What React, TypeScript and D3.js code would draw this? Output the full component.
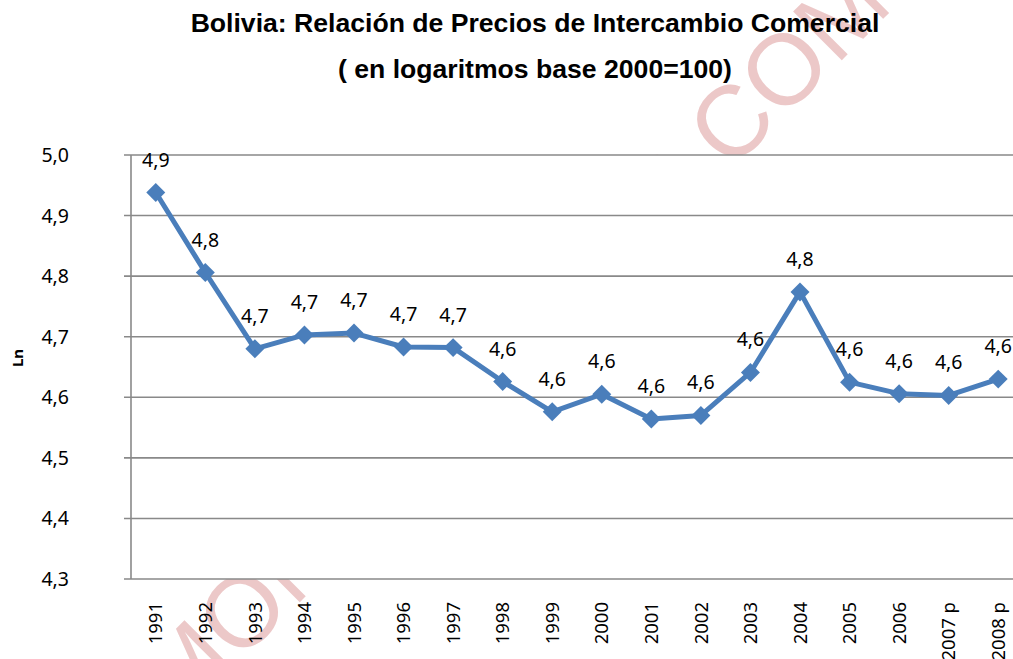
import React, { useEffect, useRef } from 'react';
import * as d3 from 'd3';

const years = ['1991', '1992', '1993', '1994', '1995', '1996', '1997', '1998', '1999', '2000',
  '2001', '2002', '2003', '2004', '2005', '2006', '2007 p', '2008 p'];
const lnValues = [4.938, 4.806, 4.680, 4.703, 4.706, 4.683, 4.682, 4.626, 4.576, 4.605,
  4.564, 4.570, 4.641, 4.774, 4.625, 4.606, 4.603, 4.630];
const yTicks = [4.3, 4.4, 4.5, 4.6, 4.7, 4.8, 4.9, 5.0];
const titleLines = ['Bolivia: Relación de Precios de Intercambio Comercial', '( en logaritmos base 2000=100)'];

const W = 1013;
const H = 659;

const App = () => {
  const ref = useRef<SVGSVGElement | null>(null);

  useEffect(() => {
    if (!ref.current) return;
    const svg = d3.select(ref.current);
    svg.selectAll('*').remove();

    const left = 131, right = 1023, top = 155, bottom = 579;
    const lbl = 'Noto Sans, Open Sans, sans-serif';
    const grey = '#898989';
    const blue = '#4a7ebb';
    const comma = (v: number) => d3.format('.1f')(v).replace('.', ',');

    // watermark behind the chart
    svg.append('text')
      .attr('transform', 'translate(180,722) rotate(-45)')
      .attr('fill', '#ecc8c8')
      .style('font-family', 'Liberation Sans, Arial, sans-serif')
      .style('font-size', '100px')
      .text('MONOGRAFIAS.COM');

    const x = d3.scaleBand().domain(years).range([left, right]);
    const y = d3.scaleLinear().domain([4.3, 5.0]).range([bottom, top]);

    // plot area
    svg.append('rect')
      .attr('x', left).attr('y', top)
      .attr('width', right - left).attr('height', bottom - top)
      .attr('fill', 'white');

    // gridlines
    svg.append('g')
      .selectAll('line')
      .data(yTicks)
      .join('line')
      .attr('x1', left - 7).attr('x2', right)
      .attr('y1', (d) => y(d)).attr('y2', (d) => y(d))
      .attr('stroke', grey).attr('stroke-width', 1.6);

    svg.append('line')
      .attr('x1', left).attr('x2', left)
      .attr('y1', top).attr('y2', bottom)
      .attr('stroke', grey).attr('stroke-width', 1.6);

    // y tick labels
    svg.append('g')
      .selectAll('text')
      .data(yTicks)
      .join('text')
      .attr('x', 69)
      .attr('y', (d) => y(d))
      .attr('dy', '0.36em')
      .attr('text-anchor', 'end')
      .style('font-family', lbl)
      .style('font-size', '19.5px')
      .text((d) => comma(d));

    svg.append('text')
      .attr('transform', 'translate(23,358) rotate(-90)')
      .attr('text-anchor', 'middle')
      .style('font-family', lbl)
      .style('font-weight', 'bold')
      .style('font-size', '15px')
      .text('Ln');

    // x labels
    svg.append('g')
      .selectAll('text')
      .data(years)
      .join('text')
      .attr('transform', (d) => `translate(${x(d)! + x.bandwidth() / 2},602) rotate(-90)`)
      .attr('dy', '0.36em')
      .attr('text-anchor', 'end')
      .style('font-family', lbl)
      .style('font-size', '18.5px')
      .text((d) => d);

    const cx = (i: number) => x(years[i])! + x.bandwidth() / 2;

    const line = d3.line<number>()
      .x((_, i) => cx(i))
      .y((d) => y(d));

    svg.append('path')
      .datum(lnValues)
      .attr('d', line)
      .attr('fill', 'none')
      .attr('stroke', blue)
      .attr('stroke-width', 5)
      .attr('stroke-linejoin', 'round');

    const diamond = d3.symbol().type(d3.symbolSquare).size(180);
    svg.append('g')
      .selectAll('path')
      .data(lnValues)
      .join('path')
      .attr('d', diamond)
      .attr('transform', (d, i) => `translate(${cx(i)},${y(d)}) rotate(45)`)
      .attr('fill', blue);

    // data labels
    svg.append('g')
      .selectAll('text')
      .data(lnValues)
      .join('text')
      .attr('x', (_, i) => cx(i))
      .attr('y', (d) => y(d) - 26)
      .attr('text-anchor', 'middle')
      .style('font-family', lbl)
      .style('font-size', '19.5px')
      .text((d) => comma(d));

    // title
    svg.append('g')
      .selectAll('text')
      .data(titleLines)
      .join('text')
      .attr('x', 535)
      .attr('y', (_, i) => 32 + i * 46)
      .attr('text-anchor', 'middle')
      .style('font-family', 'Liberation Sans, Arial, sans-serif')
      .style('font-weight', 'bold')
      .style('font-size', '26.6px')
      .text((d) => d);
  }, []);

  return (
    <svg
      ref={ref}
      width={W}
      height={H}
      style={{ position: 'absolute', left: 0, top: 0, background: 'white' }}
    />
  );
};

export default App;
